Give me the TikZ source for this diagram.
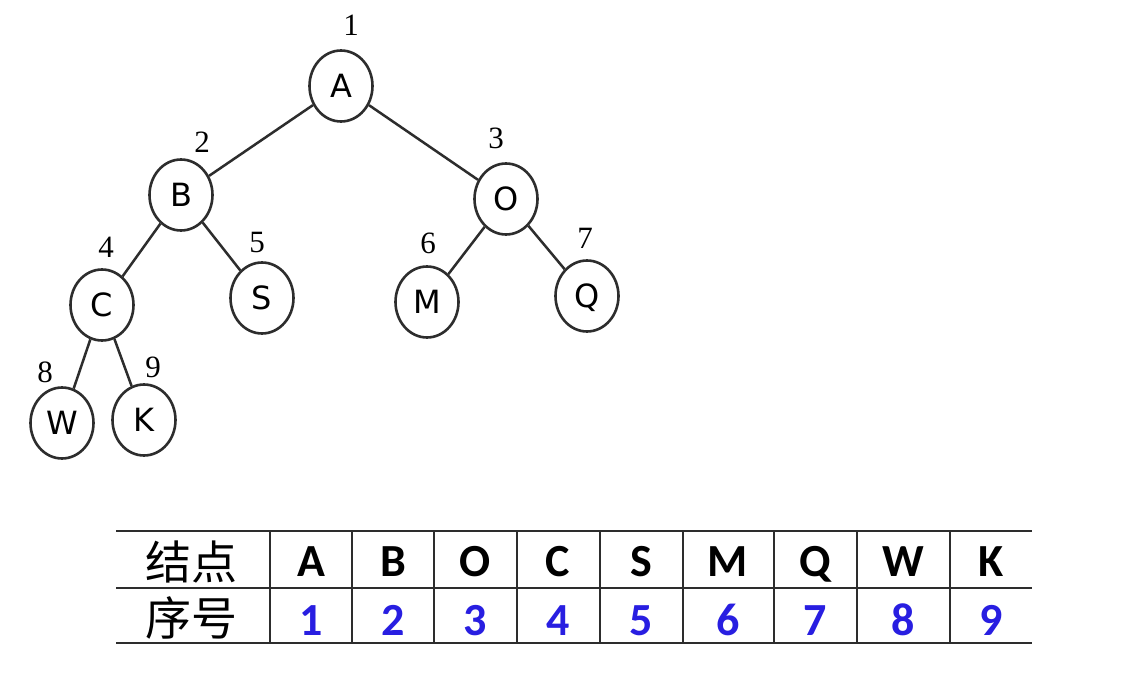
\documentclass[tikz,border=0pt]{standalone}
\usepackage{fontspec}
\setmainfont{Liberation Serif}
\newfontfamily\nodefont{DejaVu Sans}
\newfontfamily\tabfont{Carlito}
\newfontfamily\cjk{Noto Sans CJK SC}
\usetikzlibrary{shapes.geometric}
\definecolor{numblue}{RGB}{40,30,225}
\definecolor{linegray}{RGB}{45,45,45}
\begin{document}
\begin{tikzpicture}[x=1pt,y=-1pt,
  treenode/.style={ellipse, draw=linegray, line width=2.6pt, minimum width=63pt,
    minimum height=71pt, inner sep=0pt, text height=23pt, text depth=0pt,
    font=\nodefont\fontsize{32}{32}\selectfont},
  numlabel/.style={inner sep=0pt, text height=21pt, text depth=0pt,
    font=\fontsize{31}{31}\selectfont},
  edge/.style={draw=linegray, line width=2.5pt},
  gridline/.style={draw=linegray, line width=2.4pt},
  headcell/.style={inner sep=0pt, font=\cjk\fontsize{46}{46}\selectfont},
  letcell/.style={inner sep=0pt, text height=30pt, text depth=0pt,
    font=\tabfont\bfseries\fontsize{46}{46}\selectfont},
  numcell/.style={letcell, text=numblue}]
\fill[white] (0,0) rectangle (1130,679);
\useasboundingbox (0,0) rectangle (1130,679);

% tree nodes
\node[treenode] (A) at (341,86) {A};
\node[treenode] (B) at (181,195) {B};
\node[treenode] (O) at (506,199) {O};
\node[treenode] (C) at (102,305) {C};
\node[treenode] (S) at (262,298) {S};
\node[treenode] (M) at (427,302) {M};
\node[treenode] (Q) at (587,296) {Q};
\node[treenode] (W) at (62,423) {W};
\node[treenode] (K) at (144,420) {K};

% order labels
\node[numlabel] (l1) at (351,25) {1};
\node[numlabel] (l2) at (202,142) {2};
\node[numlabel] (l3) at (496,138) {3};
\node[numlabel] (l4) at (106,247) {4};
\node[numlabel] (l5) at (257,242) {5};
\node[numlabel] (l6) at (428,243) {6};
\node[numlabel] (l7) at (585,238) {7};
\node[numlabel] (l8) at (45,372) {8};
\node[numlabel] (l9) at (153,367) {9};

% edges
\draw[edge] (A) -- (B);
\draw[edge] (A) -- (O);
\draw[edge] (B) -- (C);
\draw[edge] (B) -- (S);
\draw[edge] (O) -- (M);
\draw[edge] (O) -- (Q);
\draw[edge] (C) -- (W);
\draw[edge] (C) -- (K);

% table grid
\draw[gridline] (116,531) -- (1032,531);
\draw[gridline] (116,588) -- (1032,588);
\draw[gridline] (116,643) -- (1032,643);
\foreach \vx in {270,352,434,517,600,683,774,857,950}
  \draw[gridline] (\vx,531) -- (\vx,643);

% table texts
\node[headcell] (hd1) at (191,562) {结点};
\node[headcell] (hd2) at (191,618) {序号};
\foreach \k/\cx/\lt in {1/311/A,2/393/B,3/475/O,4/558/C,5/641/S,6/728/M,7/815/Q,8/903/W,9/991/K}{
  \node[letcell] (t\k) at (\cx,561) {\lt};
  \node[numcell] (u\k) at (\cx,620) {\k};
}
\end{tikzpicture}
\end{document}
